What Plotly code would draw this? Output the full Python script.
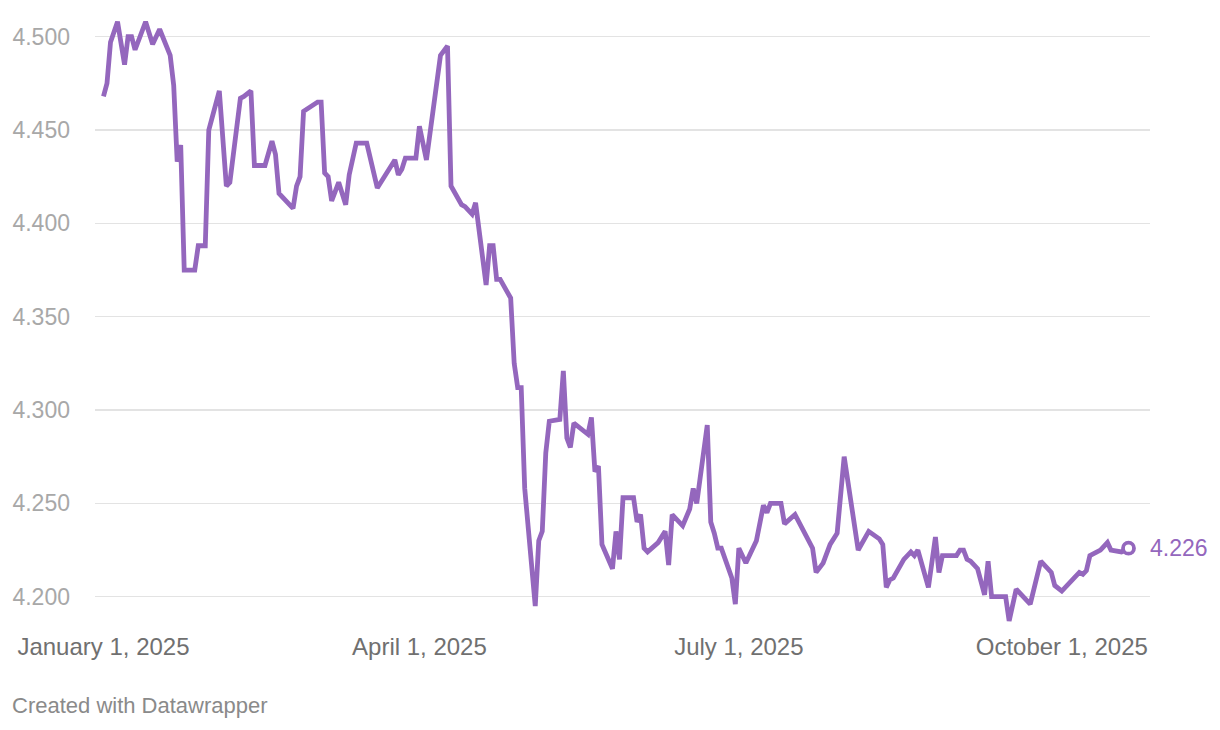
import plotly.graph_objects as go

dates = [
    "2025-01-01", "2025-01-02", "2025-01-03", "2025-01-05", "2025-01-07", "2025-01-08", "2025-01-09",
    "2025-01-10", "2025-01-13", "2025-01-15", "2025-01-17", "2025-01-20", "2025-01-21", "2025-01-22",
    "2025-01-23", "2025-01-24", "2025-01-27", "2025-01-28", "2025-01-30", "2025-01-31", "2025-02-03",
    "2025-02-05", "2025-02-06", "2025-02-07", "2025-02-09", "2025-02-10", "2025-02-12", "2025-02-13",
    "2025-02-16", "2025-02-18", "2025-02-19", "2025-02-20", "2025-02-24", "2025-02-25", "2025-02-26",
    "2025-02-27", "2025-03-03", "2025-03-04", "2025-03-05", "2025-03-06", "2025-03-07", "2025-03-09",
    "2025-03-11", "2025-03-12", "2025-03-14", "2025-03-17", "2025-03-19", "2025-03-20", "2025-03-25",
    "2025-03-26", "2025-03-27", "2025-03-28", "2025-03-31", "2025-04-01", "2025-04-03", "2025-04-07",
    "2025-04-09", "2025-04-10", "2025-04-13", "2025-04-14", "2025-04-16", "2025-04-17", "2025-04-20",
    "2025-04-21", "2025-04-22", "2025-04-23", "2025-04-24", "2025-04-27", "2025-04-28", "2025-04-29",
    "2025-04-30", "2025-05-01", "2025-05-04", "2025-05-05", "2025-05-06", "2025-05-07", "2025-05-08",
    "2025-05-11", "2025-05-12", "2025-05-13", "2025-05-14", "2025-05-15", "2025-05-19", "2025-05-20",
    "2025-05-21", "2025-05-22", "2025-05-23", "2025-05-26", "2025-05-27", "2025-05-28", "2025-05-29",
    "2025-06-01", "2025-06-02", "2025-06-03", "2025-06-04", "2025-06-05", "2025-06-08", "2025-06-10",
    "2025-06-11", "2025-06-12", "2025-06-15", "2025-06-17", "2025-06-18", "2025-06-19", "2025-06-22",
    "2025-06-23", "2025-06-24", "2025-06-25", "2025-06-26", "2025-06-29", "2025-06-30", "2025-07-01",
    "2025-07-03", "2025-07-06", "2025-07-08", "2025-07-09", "2025-07-10", "2025-07-13", "2025-07-14",
    "2025-07-17", "2025-07-22", "2025-07-23", "2025-07-25", "2025-07-27", "2025-07-29", "2025-07-31",
    "2025-08-04", "2025-08-05", "2025-08-07", "2025-08-10", "2025-08-11", "2025-08-12", "2025-08-13",
    "2025-08-14", "2025-08-17", "2025-08-19", "2025-08-20", "2025-08-21", "2025-08-24", "2025-08-26",
    "2025-08-27", "2025-08-28", "2025-09-01", "2025-09-02", "2025-09-03", "2025-09-04", "2025-09-05",
    "2025-09-07", "2025-09-09", "2025-09-10", "2025-09-11", "2025-09-15", "2025-09-16", "2025-09-18",
    "2025-09-20", "2025-09-22", "2025-09-25", "2025-09-28", "2025-09-29", "2025-10-01", "2025-10-04",
    "2025-10-06", "2025-10-07", "2025-10-08", "2025-10-09", "2025-10-12", "2025-10-14", "2025-10-15",
    "2025-10-18", "2025-10-20",
]

values = [
    4.468, 4.475, 4.497, 4.508, 4.485, 4.500, 4.500,
    4.493, 4.508, 4.496, 4.504, 4.490, 4.474, 4.433,
    4.442, 4.375, 4.375, 4.388, 4.388, 4.450, 4.471,
    4.420, 4.422, 4.438, 4.467, 4.468, 4.471, 4.431,
    4.431, 4.444, 4.437, 4.416, 4.408, 4.420, 4.425,
    4.460, 4.465, 4.465, 4.427, 4.425, 4.412, 4.422,
    4.410, 4.426, 4.443, 4.443, 4.427, 4.419, 4.434,
    4.426, 4.429, 4.435, 4.435, 4.452, 4.434, 4.490,
    4.495, 4.420, 4.410, 4.409, 4.405, 4.411, 4.367,
    4.388, 4.388, 4.370, 4.370, 4.360, 4.325, 4.312,
    4.312, 4.258, 4.195, 4.230, 4.235, 4.277, 4.294,
    4.295, 4.321, 4.285, 4.280, 4.293, 4.287, 4.296,
    4.267, 4.270, 4.228, 4.215, 4.235, 4.220, 4.253,
    4.253, 4.240, 4.244, 4.226, 4.224, 4.229, 4.235,
    4.217, 4.244, 4.238, 4.247, 4.258, 4.250, 4.292,
    4.240, 4.234, 4.226, 4.226, 4.210, 4.196, 4.226,
    4.218, 4.230, 4.249, 4.245, 4.250, 4.250, 4.239,
    4.244, 4.226, 4.213, 4.218, 4.228, 4.234, 4.275,
    4.225, 4.228, 4.235, 4.231, 4.228, 4.205, 4.209,
    4.210, 4.220, 4.224, 4.222, 4.225, 4.205, 4.232,
    4.213, 4.222, 4.222, 4.225, 4.225, 4.220, 4.219,
    4.215, 4.201, 4.219, 4.200, 4.200, 4.187, 4.204,
    4.200, 4.196, 4.219, 4.213, 4.206, 4.203, 4.209,
    4.213, 4.212, 4.214, 4.222, 4.225, 4.229, 4.225,
    4.224, 4.226,
]

last_label = "4.226"

y_ticks = [4.20, 4.25, 4.30, 4.35, 4.40, 4.45, 4.50]
y_tick_text = ["4.200", "4.250", "4.300", "4.350", "4.400", "4.450", "4.500"]
x_ticks = ["2025-01-01", "2025-04-01", "2025-07-01", "2025-10-01"]
x_tick_text = ["January 1, 2025", "April 1, 2025", "July 1, 2025", "October 1, 2025"]

LINE = "#9467bd"
FONT = "Liberation Sans, Arial, Helvetica, sans-serif"

fig = go.Figure()
fig.add_trace(go.Scatter(
    x=dates, y=values, mode="lines",
    line=dict(color=LINE, width=4.8, shape="linear"),
    hoverinfo="skip", showlegend=False,
))
fig.add_trace(go.Scatter(
    x=[dates[-1]], y=[values[-1]], mode="markers",
    marker=dict(symbol="circle", size=11, color="white", line=dict(color=LINE, width=3.8)),
    hoverinfo="skip", showlegend=False, cliponaxis=False,
))

fig.add_annotation(
    x=dates[-1], y=values[-1], text=last_label, showarrow=False,
    xanchor="left", yanchor="middle", xshift=19,
    font=dict(family=FONT, size=23, color=LINE),
)
fig.add_annotation(
    xref="paper", yref="paper", x=-0.0806, y=-0.1317,
    text="Created with Datawrapper", showarrow=False,
    xanchor="left", yanchor="middle",
    font=dict(family=FONT, size=22, color="#8a8a8a"),
)

fig.update_layout(
    width=1220, height=730,
    margin=dict(l=95, r=70, t=10, b=105),
    paper_bgcolor="white", plot_bgcolor="white",
    font=dict(family=FONT),
    xaxis=dict(
        type="date", range=["2024-12-29 14:00", "2025-10-26 03:00"],
        tickmode="array", tickvals=x_ticks, ticktext=x_tick_text,
        showgrid=False, zeroline=False, showline=False, ticks="",
        tickfont=dict(family=FONT, size=24, color="#707070"),
        ticklabelstandoff=5,
    ),
    yaxis=dict(
        range=[4.18484, 4.5143],
        tickmode="array", tickvals=y_ticks, ticktext=y_tick_text,
        showgrid=True, gridcolor="#e3e3e3", gridwidth=1.2,
        zeroline=False, showline=False, ticks="",
        tickfont=dict(family=FONT, size=23, color="#a8a8a8"),
        ticklabelstandoff=24,
    ),
)

fig.write_html(
    "out.html",
    config={"displayModeBar": False, "staticPlot": True},
    post_script="document.body.style.margin='0';document.body.style.overflow='hidden';",
)
